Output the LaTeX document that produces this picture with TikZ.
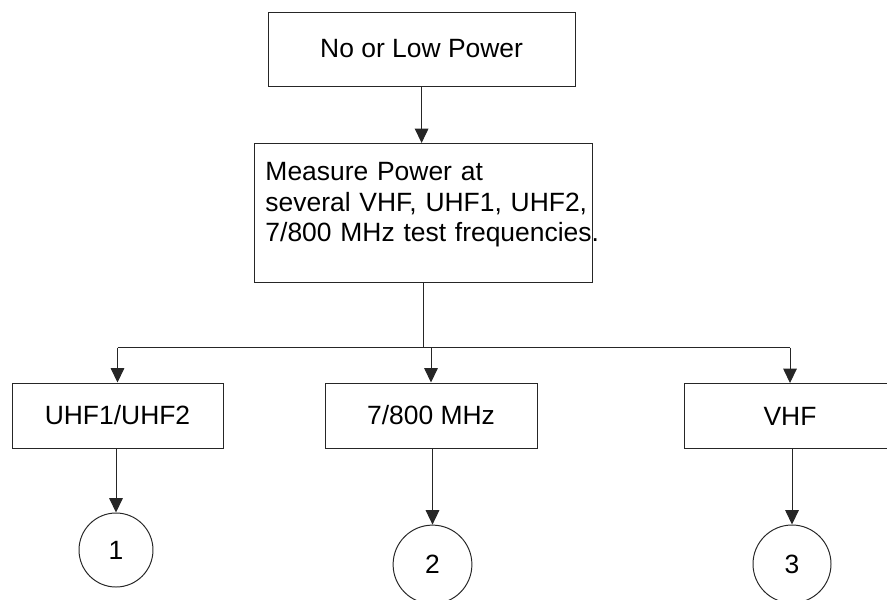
\documentclass[tikz,border=0pt]{standalone}
\usepackage{fontspec}
\setmainfont{Liberation Sans}
\usetikzlibrary{arrows.meta, positioning, calc}

\begin{document}
\begin{tikzpicture}[
    node distance=0.5cm,
    block/.style={rectangle, draw=black!85, line width=0.7pt, inner sep=0pt, font=\fontsize{18.8}{22}\selectfont},
    bandblock/.style={block, minimum width=5.3cm, minimum height=1.625cm},
    endpoint/.style={circle, draw=black!85, line width=0.7pt, inner sep=0pt, font=\fontsize{18.8}{22}\selectfont},
    wire/.style={line width=0.7pt, draw=black!85},
    flow/.style={wire, -{Triangle[length=0.36cm, width=0.34cm]}}
]

\useasboundingbox (0,0) rectangle (22.175,-14.975);

% Start
\node[block, minimum width=7.675cm, minimum height=1.85cm] (nopower) at (10.54,-1.225) {No or Low Power};

\node[block, align=left, text width=7.9cm, inner xsep=0.275cm, inner ysep=0.46cm, anchor=north west] (measure) at (6.35,-3.575)
    {\mbox{Measure Power at}\\\mbox{several VHF, UHF1, UHF2,}\\\mbox{7/800 MHz test frequencies.}\rule[-0.565cm]{0pt}{0.565cm}};

\draw[flow] (nopower.south) -- (nopower.south |- measure.north);

% Bands
\node[bandblock, minimum width=5.275cm] (uhf) at (2.9375,-10.3875) {UHF1/UHF2};
\node[bandblock] (mhz) at (10.775,-10.3875) {7/800 MHz};
\node[bandblock] (vhf) at (19.75,-10.4) {VHF};

\coordinate (split) at ($(measure.south |- uhf.north)+(0,0.875)$);
\draw[wire] (measure.south) -- (split);
\draw[wire] (uhf.north |- split) -- (vhf.north |- split);
\draw[flow] (uhf.north |- split) -- (uhf.north);
\draw[flow] (mhz.north |- split) -- (mhz.north);
\draw[flow] (vhf.north |- split) -- (vhf.north);

% Outcomes
\node[endpoint, minimum size=1.85cm] (one) at (2.9,-13.75) {1};
\node[endpoint, minimum size=1.97cm] (two) at (10.8125,-14.1125) {2};
\node[endpoint, minimum size=1.95cm] (three) at (19.8,-14.1) {3};

\draw[flow] (one.north |- uhf.south) -- (one.north);
\draw[flow] (two.north |- mhz.south) -- (two.north);
\draw[flow] (three.north |- vhf.south) -- (three.north);

\end{tikzpicture}
\end{document}
